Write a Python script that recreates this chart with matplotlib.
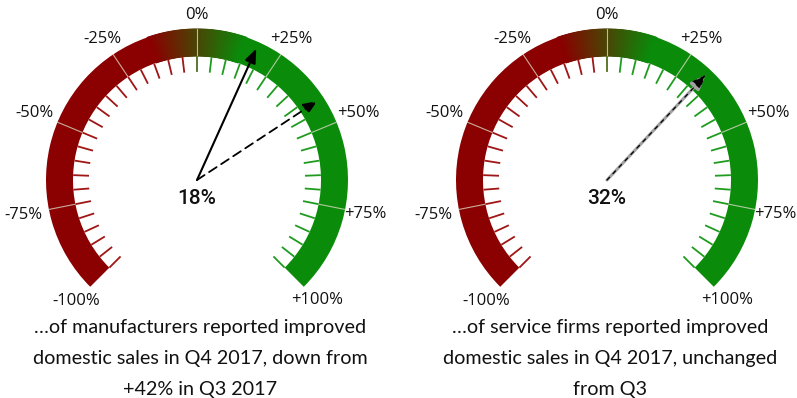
import numpy as np
import matplotlib.pyplot as plt
from matplotlib.patches import Wedge, FancyArrowPatch
from matplotlib.colors import LinearSegmentedColormap

# balance of firms reporting improved domestic sales (%)
current  = [18, 32]
previous = [42, 32]
captions = ['\u2026of manufacturers reported improved\ndomestic sales in Q4 2017, down from\n+42% in Q3 2017',
            '\u2026of service firms reported improved\ndomestic sales in Q4 2017, unchanged\nfrom Q3']
scale_marks = [-100, -75, -50, -25, 0, 25, 50, 75, 100]
scale_text  = ['-100%', '-75%', '-50%', '-25%', '0%', '+25%', '+50%', '+75%', '+100%']
label_r     = [171, 177, 176, 170, 165, 170, 175, 172, 170]   # radius of each scale label

RED, GREEN = '#8b0000', '#0a8c0a'
SWEEP  = 135.      # degrees either side of vertical at +/-100%
R_OUT, R_IN = 151., 124.
BLEND  = 14        # half width (in %) of the red->green fade around zero
centres = [(197, 218), (607, 218)]
fade = LinearSegmentedColormap.from_list('fade', [RED, GREEN])

def ang(v):
    return 90. - np.asarray(v)*SWEEP/100.

def pol(c, r, v):
    a = np.radians(ang(v))
    return c[0] + r*np.cos(a), c[1] + r*np.sin(a)

def arrow(ax, c, v, color, lw, ls='-', z=5):
    p = FancyArrowPatch(c, pol(c, 144, v), arrowstyle='-|>,head_length=0.6,head_width=0.24',
                        mutation_scale=14, color=color, lw=lw, linestyle=ls,
                        shrinkA=0, shrinkB=0, zorder=z)
    ax.add_patch(p)

def gauge(ax, c, cur, prev, caption):
    w = R_OUT - R_IN
    ax.add_patch(Wedge(c, R_OUT, ang(-BLEND), ang(-100), width=w, fc=RED, ec='none'))
    ax.add_patch(Wedge(c, R_OUT, ang(100), ang(BLEND), width=w, fc=GREEN, ec='none'))
    # smooth fade through zero
    vs = np.linspace(-BLEND - 0.3, BLEND + 0.3, 120)
    X, Y = pol(c, np.array([[R_IN], [R_OUT]]), vs[None, :])
    C = np.clip((np.vstack([vs, vs]) + BLEND)/(2*BLEND), 0, 1)
    ax.pcolormesh(X, Y, C, cmap=fade, vmin=0, vmax=1, shading='gouraud', zorder=1)

    # quarter dividers across the band
    for v in scale_marks[1:-1]:
        x0, y0 = pol(c, R_IN, v)
        x1, y1 = pol(c, R_OUT, v)
        ax.plot([x0, x1], [y0, y1], color='#d9d9c4', lw=0.8, alpha=0.8, zorder=3)

    # minor ticks every 5%
    for v in range(-100, 101, 5):
        col = '#a01515' if v < 0 else ('#4f6e1c' if v == 0 else '#1f9c1f')
        x0, y0 = pol(c, 109, v)
        x1, y1 = pol(c, 123, v)
        ax.plot([x0, x1], [y0, y1], color=col, lw=1.3, zorder=3)

    for v, s, r in zip(scale_marks, scale_text, label_r):
        x, y = pol(c, r, v)
        ax.text(x, y, s, ha='center', va='center', fontsize=12, family='Open Sans',
                fontweight='medium', color='#111111')

    if prev == cur:
        arrow(ax, c, cur, '#a0a0a0', 2.2)
        arrow(ax, c, prev, 'black', 0.9, ls=(0, (3, 4)), z=6)
    else:
        arrow(ax, c, prev, 'black', 1.3, ls=(0, (5, 3)))
        arrow(ax, c, cur, 'black', 1.5)

    ax.text(c[0], c[1] - 18, f'{cur}%', ha='center', va='center', fontsize=15,
            family='Roboto', fontweight='medium', color='#111111')
    ax.text(c[0] + 3, 39.5, caption, ha='center', va='center', fontsize=14.2,
            family='Lato', linespacing=1.97, color='#111111')

fig = plt.figure(figsize=(7.97, 3.98), dpi=100)
ax = fig.add_axes([0, 0, 1, 1])
ax.set_xlim(0, 797)
ax.set_ylim(0, 398)
ax.set_aspect('equal')
ax.axis('off')

for c, cur, prev, cap in zip(centres, current, previous, captions):
    gauge(ax, c, cur, prev, cap)

fig.savefig('out.png', dpi=100)
